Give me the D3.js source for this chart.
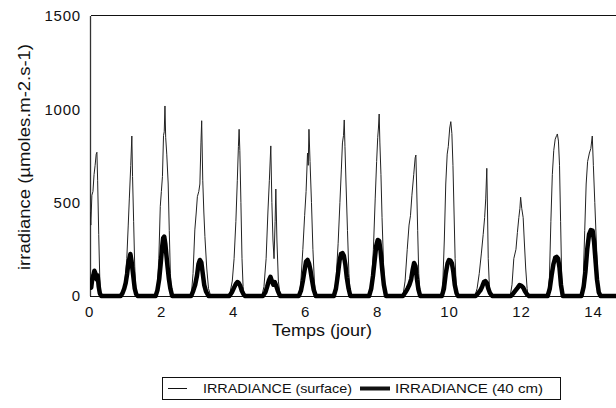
<!DOCTYPE html>
<html lang="fr">
<head>
  <meta charset="UTF-8"/>
  <title>Irradiance</title>
  <style>
    *{margin:0;padding:0}
    body{background:#fff;width:616px;height:408px;overflow:hidden}
    svg{display:block;font-family:"Liberation Sans",Arial,sans-serif}
  </style>
</head>
<body>
<div id="chart"></div>
<script src="https://d3js.org/d3.v7.min.js"></script>
<script>
  // time in days, irradiance in µmoles.m-2.s-1
  const surface = [
    [0.00,0],[0.01,360],[0.03,450],[0.05,380],[0.08,540],[0.11,560],[0.14,650],[0.17,700],[0.20,760],[0.22,770],[0.24,620],[0.27,330],[0.30,90],[0.33,0],
    [0.90,0],[0.95,20],[1.00,80],[1.05,200],[1.09,380],[1.12,520],[1.16,700],[1.19,857],[1.21,640],[1.24,400],[1.27,160],[1.30,30],[1.33,0],
    [1.86,0],[1.90,60],[1.94,200],[1.98,480],[2.01,560],[2.04,640],[2.07,860],[2.09,880],[2.11,1018],[2.13,850],[2.16,760],[2.20,600],[2.23,350],[2.26,120],[2.30,0],
    [2.84,0],[2.89,120],[2.94,354],[2.98,450],[3.01,532],[3.05,560],[3.08,600],[3.11,820],[3.13,939],[3.16,620],[3.19,450],[3.22,318],[3.27,150],[3.32,40],[3.38,0],
    [3.85,0],[3.92,20],[3.98,80],[4.03,200],[4.08,400],[4.12,620],[4.15,800],[4.17,893],[4.19,780],[4.22,500],[4.25,200],[4.28,50],[4.31,0],
    [4.80,0],[4.86,50],[4.92,200],[4.97,450],[5.01,620],[5.05,804],[5.08,500],[5.11,300],[5.14,200],[5.17,400],[5.19,573],[5.22,300],[5.26,80],[5.31,0],
    [5.83,0],[5.88,60],[5.94,250],[5.99,430],[6.03,560],[6.07,766],[6.09,700],[6.11,893],[6.14,720],[6.18,500],[6.22,250],[6.26,80],[6.30,0],
    [6.80,0],[6.86,80],[6.92,280],[6.97,500],[7.01,680],[7.04,820],[7.07,860],[7.09,943],[7.11,800],[7.14,600],[7.18,350],[7.22,120],[7.26,0],
    [7.78,0],[7.84,60],[7.90,250],[7.95,520],[7.99,720],[8.02,850],[8.04,900],[8.06,975],[8.08,820],[8.11,650],[8.14,420],[8.18,180],[8.22,40],[8.26,0],
    [8.72,0],[8.78,80],[8.84,250],[8.89,380],[8.93,430],[8.97,540],[9.02,650],[9.06,740],[9.08,755],[9.10,600],[9.13,350],[9.16,120],[9.20,0],
    [9.78,0],[9.83,80],[9.87,300],[9.91,600],[9.95,760],[9.98,800],[10.02,900],[10.05,934],[10.08,870],[10.11,700],[10.14,450],[10.17,200],[10.20,50],[10.23,0],
    [10.72,0],[10.78,40],[10.84,120],[10.90,230],[10.95,330],[10.99,420],[11.02,520],[11.05,684],[11.07,450],[11.09,200],[11.12,60],[11.16,0],
    [11.70,0],[11.75,60],[11.80,200],[11.86,250],[11.90,340],[11.94,420],[11.97,470],[11.99,529],[12.02,470],[12.06,420],[12.09,300],[12.13,150],[12.17,40],[12.20,0],
    [12.74,0],[12.79,100],[12.83,400],[12.87,650],[12.91,780],[12.95,840],[12.99,860],[13.01,868],[13.04,830],[13.07,700],[13.10,400],[13.13,100],[13.16,0],
    [13.68,0],[13.73,100],[13.77,350],[13.81,600],[13.85,720],[13.90,766],[13.94,790],[13.98,857],[14.01,700],[14.05,500],[14.09,300],[14.13,120],[14.17,30],[14.21,0],
    [15.00,0]
  ];

  const depth40 = [
    [0.00,40],[0.03,60],[0.06,45],[0.09,90],[0.12,110],[0.15,135],[0.18,120],[0.21,90],[0.24,110],[0.27,50],[0.30,15],[0.34,0],
    [0.88,0],[0.93,15],[0.98,40],[1.02,70],[1.06,120],[1.09,170],[1.12,200],[1.15,225],[1.18,190],[1.21,140],[1.24,90],[1.27,40],[1.31,10],[1.35,0],
    [1.85,0],[1.90,30],[1.95,90],[1.99,170],[2.03,260],[2.06,310],[2.09,318],[2.12,280],[2.15,220],[2.18,160],[2.22,90],[2.26,40],[2.31,0],
    [2.84,0],[2.90,30],[2.95,60],[3.00,110],[3.04,170],[3.08,193],[3.12,180],[3.16,120],[3.20,60],[3.25,25],[3.32,0],
    [3.90,0],[3.97,20],[4.03,45],[4.08,65],[4.12,75],[4.16,70],[4.20,55],[4.24,30],[4.29,10],[4.33,0],
    [4.83,0],[4.90,20],[4.95,50],[5.00,85],[5.04,103],[5.08,80],[5.12,60],[5.16,75],[5.20,55],[5.25,25],[5.31,0],
    [5.83,0],[5.89,30],[5.94,80],[5.99,140],[6.03,185],[6.07,193],[6.11,175],[6.15,140],[6.19,90],[6.24,35],[6.30,0],
    [6.80,0],[6.86,40],[6.91,110],[6.96,190],[7.00,225],[7.04,230],[7.08,215],[7.12,170],[7.16,100],[7.21,40],[7.26,0],
    [7.78,0],[7.84,40],[7.89,110],[7.94,200],[7.98,270],[8.02,300],[8.06,295],[8.10,240],[8.14,150],[8.19,60],[8.25,0],
    [8.72,0],[8.79,20],[8.85,40],[8.90,60],[8.95,90],[8.99,140],[9.03,177],[9.07,160],[9.11,90],[9.15,35],[9.20,0],
    [9.80,0],[9.86,40],[9.91,120],[9.96,175],[10.00,193],[10.04,190],[10.08,175],[10.12,130],[10.16,60],[10.21,15],[10.25,0],
    [10.74,0],[10.81,15],[10.87,30],[10.92,50],[10.97,75],[11.01,80],[11.05,70],[11.09,40],[11.14,15],[11.20,0],
    [11.72,0],[11.79,15],[11.85,30],[11.91,45],[11.96,59],[12.01,55],[12.06,45],[12.11,25],[12.17,8],[12.22,0],
    [12.74,0],[12.80,40],[12.85,110],[12.90,170],[12.95,205],[12.99,210],[13.03,200],[13.07,150],[13.11,60],[13.16,0],
    [13.68,0],[13.74,50],[13.79,130],[13.84,250],[13.89,330],[13.94,353],[13.99,350],[14.03,290],[14.07,190],[14.11,90],[14.16,20],[14.21,0],
    [15.00,0]
  ];

  const xTicks = [0, 2, 4, 6, 8, 10, 12, 14];
  const yTicks = [0, 500, 1000, 1500];
  const seriesNames = ['IRRADIANCE (surface)', 'IRRADIANCE (40 cm)'];

  const W = 616, H = 408;
  const x = d3.scaleLinear().domain([0, 15]).range([89, 629]);
  const y = d3.scaleLinear().domain([0, 1500]).range([296, 16]);

  const svg = d3.select('#chart').append('svg')
    .attr('width', W).attr('height', H);

  svg.append('rect').attr('width', W).attr('height', H).attr('fill', '#fff');

  svg.append('clipPath').attr('id', 'plot')
    .append('rect').attr('x', 90).attr('y', 10).attr('width', W - 90).attr('height', 290);

  // frame: left axis, top line, baseline
  svg.append('line').attr('x1', 90.5).attr('x2', 90.5).attr('y1', y(1500)).attr('y2', y(0))
    .attr('stroke', '#333').attr('stroke-width', 1.3);
  svg.append('line').attr('x1', 91).attr('x2', W).attr('y1', y(1500) - 0.5).attr('y2', y(1500) - 0.5)
    .attr('stroke', '#111').attr('stroke-width', 1.2);
  svg.append('line').attr('x1', 90).attr('x2', W).attr('y1', y(0) + 0.5).attr('y2', y(0) + 0.5)
    .attr('stroke', '#111').attr('stroke-width', 1.2);

  // axes
  const gx = svg.append('g').attr('transform', `translate(0,${y(0)})`)
    .call(d3.axisBottom(x).tickValues(xTicks).tickSize(0).tickPadding(10).tickFormat(d3.format('d')));
  const gy = svg.append('g').attr('transform', 'translate(90,0)')
    .call(d3.axisLeft(y).tickValues(yTicks).tickSize(0).tickPadding(9).tickFormat(d3.format('d')));
  [gx, gy].forEach(g => {
    g.select('.domain').remove();
    g.selectAll('text').attr('font-size', 15).attr('fill', '#111')
      .attr('font-family', '"Liberation Sans",Arial,sans-serif').attr('letter-spacing', 0.8);
  });

  svg.append('text').attr('x', 322).attr('y', 336).attr('text-anchor', 'middle')
    .attr('font-size', 17).attr('fill', '#111')
    .attr('textLength', 100).attr('lengthAdjust', 'spacingAndGlyphs').text('Temps (jour)');
  svg.append('text').attr('transform', 'translate(30,157) rotate(-90)').attr('text-anchor', 'middle')
    .attr('font-size', 17).attr('fill', '#111')
    .attr('textLength', 226).attr('lengthAdjust', 'spacingAndGlyphs').text('irradiance (µmoles.m-2.s-1)');

  // series
  const line = d3.line().x(d => x(d[0])).y(d => y(d[1]));
  const plot = svg.append('g').attr('clip-path', 'url(#plot)');
  plot.append('path').datum(surface).attr('d', line)
    .attr('fill', 'none').attr('stroke', '#222').attr('stroke-width', 1).attr('stroke-linejoin', 'round');
  plot.append('path').datum(depth40).attr('d', line)
    .attr('fill', 'none').attr('stroke', '#000').attr('stroke-width', 4.5).attr('stroke-linejoin', 'round');

  // legend
  const lg = svg.append('g');
  lg.append('rect').attr('x', 162.5).attr('y', 377.5).attr('width', 398).attr('height', 22)
    .attr('fill', '#fff').attr('stroke', '#111');
  const items = [
    { name: seriesNames[0], x1: 168, x2: 187, tx: 203, tl: 149, w: 1 },
    { name: seriesNames[1], x1: 360, x2: 390, tx: 395, tl: 148, w: 4 }
  ];
  items.forEach(it => {
    lg.append('line').attr('x1', it.x1).attr('x2', it.x2).attr('y1', 388.5).attr('y2', 388.5)
      .attr('stroke', '#111').attr('stroke-width', it.w);
    lg.append('text').attr('x', it.tx).attr('y', 393).attr('font-size', 13).attr('fill', '#111')
      .attr('textLength', it.tl).attr('lengthAdjust', 'spacingAndGlyphs').text(it.name);
  });
</script>
</body>
</html>
